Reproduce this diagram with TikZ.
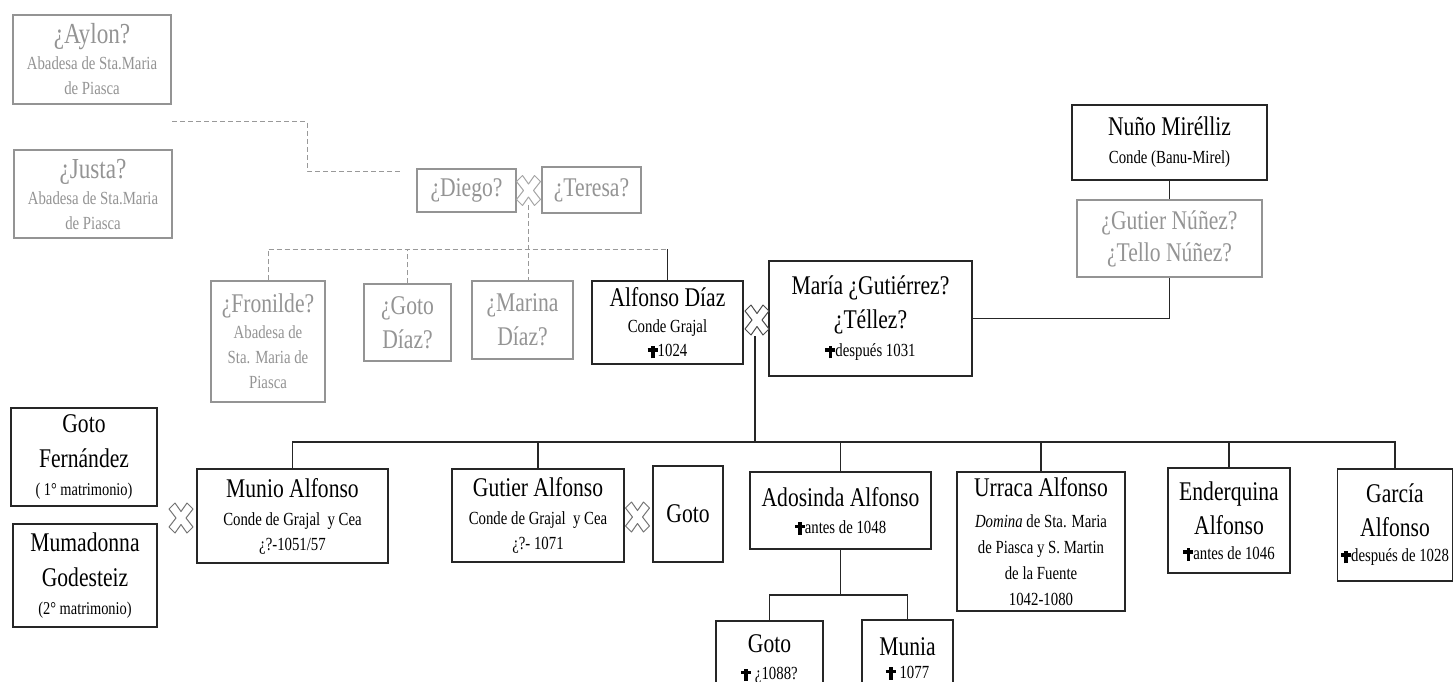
\documentclass[tikz,border=0pt]{standalone}
\usepackage{fontspec}
\setmainfont{Liberation Serif}[FakeStretch=0.8]
% large type for the names
\newcommand\Nm[1]{{\fontsize{27}{30}\selectfont #1}}
\newcommand\Ng[1]{{\fontsize{29}{30}\selectfont #1}}
% small solid cross before a date of death
\newcommand\Dd{{\setlength\unitlength{1pt}\begin{picture}(10,10)\put(3.2,-1.5){\rule{3.6pt}{12.5pt}}\put(0,5.2){\rule{10pt}{3.6pt}}\end{picture}}}
\tikzset{
  box/.style={draw=black!85, line width=1.4pt, fill=white, inner sep=0pt,
    align=center, text=black, font=\fontsize{18.5}{25}\selectfont},
  bigbox/.style={box, font=\fontsize{27}{35}\selectfont},
  ghost/.style={box, draw=black!42, text=black!42},
  bigghost/.style={ghost, font=\fontsize{27}{34}\selectfont},
  link/.style={line width=1.3pt, draw=black!85},
  dlink/.style={line width=1pt, draw=black!40, dash pattern=on 5pt off 3pt},
  pics/wed/.style={code={
    \draw[line width=1pt, line join=round]
      (0,6.5) -- (6,15) -- (12,9) -- (5,0) -- (12,-9) -- (6,-15) -- (0,-6.5)
      -- (-6,-15) -- (-12,-9) -- (-5,0) -- (-12,9) -- (-6,15) -- cycle;}}
}
\begin{document}
\begin{tikzpicture}[x=1pt,y=-1pt]
\clip (0,0) rectangle (1453,682);
\fill[white] (0,0) rectangle (1453,682);

% uncertain ancestors
\node[ghost, minimum width=158, minimum height=89] (aylon) at (92,59.5)
  {\Ng{¿Aylon?}\\[1pt] Abadesa de Sta.Maria\\ de Piasca};
\node[ghost, minimum width=158, minimum height=88] (justa) at (93,194)
  {\Ng{¿Justa?}\\[1pt] Abadesa de Sta.Maria\\ de Piasca};
\node[bigghost, minimum width=99, minimum height=43] (diego) at (466.5,190.5) {¿Diego?};
\node[bigghost, minimum width=99, minimum height=46] (teresa) at (591.5,190) {¿Teresa?};

% children of Diego and Teresa
\node[ghost, minimum width=114, minimum height=121] (fronilde) at (268,341.5)
  {\Nm{¿Fronilde?}\\[1pt] Abadesa de\\ Sta. Maria de\\ Piasca};
\node[bigghost, minimum width=87, minimum height=77] (gotodiaz) at (407.5,322.5) {¿Goto\\ Díaz?};
\node[bigghost, minimum width=101, minimum height=78] (marina) at (522.5,320) {¿Marina\\ Díaz?};
\node[box, minimum width=151, minimum height=83] (alfonso) at (667.5,322.5)
  {\Nm{Alfonso Díaz}\\[1pt] Conde Grajal\\[-1pt] \Dd1024};

% María and her line
\node[box, minimum width=203, minimum height=115] (maria) at (870.5,318.5)
  {\Nm{María ¿Gutiérrez?}\\[9pt] \Nm{¿Téllez?}\\[3pt] \Dd después 1031};
\node[box, minimum width=195, minimum height=75] (nuno) at (1169.5,142.5)
  {\Nm{Nuño Mirélliz}\\[3pt] Conde (Banu-Mirel)};
\node[ghost, font=\fontsize{27}{32}\selectfont, minimum width=185, minimum height=77] (gutiern) at (1169.5,238.5)
  {¿Gutier Núñez?\\ ¿Tello Núñez?};

% wives of Munio
\node[bigbox, minimum width=146, minimum height=98] (gotof) at (84,457)
  {Goto\\ Fernández\\[-7pt] {\fontsize{18}{20}\selectfont ( 1° matrimonio)}};
\node[bigbox, minimum width=144, minimum height=103] (mumadonna) at (85,575.5)
  {Mumadonna\\ Godesteiz\\[-7pt] {\fontsize{18}{20}\selectfont (2° matrimonio)}};

% children of Alfonso and María
\node[box, minimum width=191, minimum height=94] (munio) at (292.5,516)
  {\Nm{Munio Alfonso}\\[3pt] Conde de Grajal\ \ y Cea\\ ¿?-1051/57};
\node[box, minimum width=172, minimum height=93] (gutiera) at (538,515.5)
  {\Nm{Gutier Alfonso}\\[3pt] Conde de Grajal\ \ y Cea\\ ¿?- 1071};
\node[bigbox, minimum width=70, minimum height=96] (gotow) at (688,514) {Goto};
\node[box, minimum width=181, minimum height=77] (adosinda) at (840.5,510.5)
  {\Nm{Adosinda Alfonso}\\[2pt] \Dd antes de 1048};
\node[box, font=\fontsize{18.5}{26}\selectfont, minimum width=168, minimum height=139] (urraca) at (1041,541.5)
  {\Nm{Urraca Alfonso}\\[5pt] \textit{Domina} de Sta. Maria\\ de Piasca y S. Martin\\ de la Fuente\\ 1042-1080};
\node[box, minimum width=122, minimum height=105] (enderquina) at (1229,520.5)
  {\Nm{Enderquina}\\[9pt] \Nm{Alfonso}\\ \Dd antes de 1046};
\node[box, minimum width=115, minimum height=112] (garcia) at (1395,525)
  {\Nm{García}\\[9pt] \Nm{Alfonso}\\ \Dd después de 1028};

% children of Adosinda
\node[box, minimum width=107, minimum height=76] (gotoc) at (769.5,659)
  {\Nm{Goto}\\[2pt] \Dd\ ¿1088?};
\node[box, minimum width=91, minimum height=76] (munia) at (907.5,658)
  {\Nm{Munia}\\[-2pt] \Dd\ 1077};

% marriage marks
\pic[color=black!35] at (528.5,190.5) {wed};
\pic[color=black!70] at (757,320) {wed};
\pic[color=black!55] at (181,518) {wed};
\pic[color=black!55] at (637.5,517) {wed};

% dashed links of the uncertain generations
\coordinate (abb) at (172,122);
\coordinate (abbend) at (400,171);
\draw[dlink] (abb) -- ++(135,0) |- (abbend);
\coordinate (dt) at (528.5,205);
\coordinate (sib) at (0,249);
\draw[dlink] (dt) -- (dt |- marina.north);
\draw[dlink] (fronilde.north) |- (alfonso.north |- sib);
\draw[dlink] (gotodiaz.north) -- (gotodiaz.north |- sib);
\draw[link] (alfonso.north) -- (alfonso.north |- sib);

% María's ascendancy
\draw[link] (nuno.south) -- (gutiern.north);
\draw[link] (maria.east) -| (gutiern.south);

% children bar
\coordinate (am) at (755,336);
\coordinate (bar) at (0,442);
\draw[link] (am) -- (am |- bar);
\draw[link] (munio.north) |- (garcia.north |- bar) -- (garcia.north);
\foreach \n in {gutiera, adosinda, urraca, enderquina}
  \draw[link] (\n.north) -- (\n.north |- bar);

% Adosinda's children
\coordinate (ado) at (0,595);
\draw[link] (adosinda.south) -- (adosinda.south |- ado);
\draw[link] (gotoc.north) |- (munia.north |- ado) -- (munia.north);
\end{tikzpicture}
\end{document}
